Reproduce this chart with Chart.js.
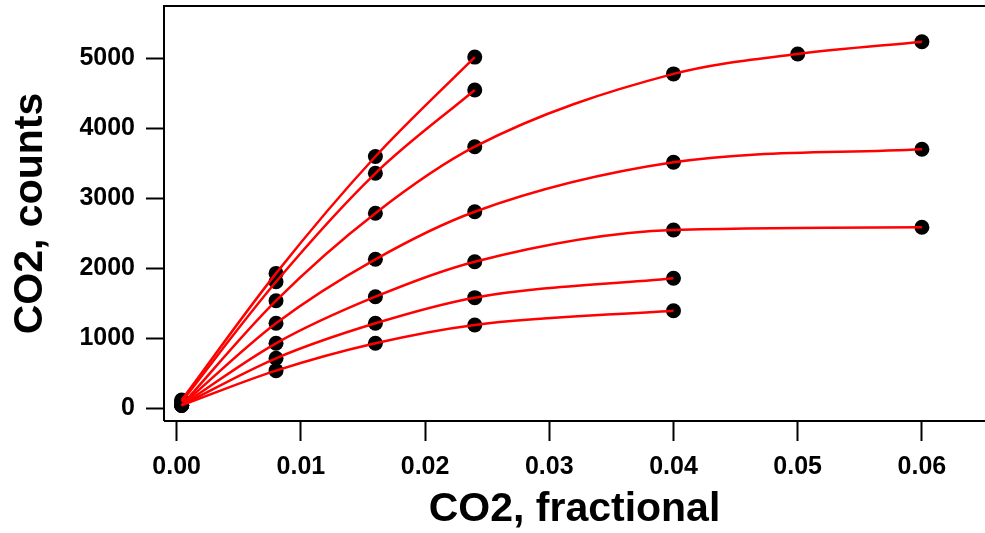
<!DOCTYPE html>
<html>
<head>
<meta charset="utf-8">
<script src="https://cdn.jsdelivr.net/npm/chart.js@4.4.1/dist/chart.umd.min.js"></script>
<style>
  html, body { margin: 0; padding: 0; background: #fff; }
  #wrap { width: 985px; height: 533px; }
</style>
</head>
<body>
<div id="wrap"><canvas id="myChart" width="985" height="533"></canvas></div>
<script>
// CO2 fraction at which each calibration run was sampled
const fracShort = [0.0004, 0.008, 0.016, 0.024];
const fracLong = [0.0004, 0.008, 0.016, 0.024, 0.04, 0.05, 0.06];
const fracMid = [0.0004, 0.008, 0.016, 0.024, 0.04, 0.06];
const fracFour = [0.0004, 0.008, 0.016, 0.024, 0.04];

// counts, top curve first
const counts1 = [120, 1930, 3600, 5020];
const counts2 = [95, 1810, 3360, 4550];
const counts3 = [45, 1540, 2790, 3740, 4780, 5064, 5240];
const counts4 = [45, 1217, 2131, 2811, 3517, 3703];
const counts5 = [45, 931, 1597, 2097, 2550, 2589];
const counts6 = [45, 717, 1217, 1583, 1860];
const counts7 = [45, 540, 931, 1193, 1397];

const xTicks = [0, 0.01, 0.02, 0.03, 0.04, 0.05, 0.06];
const yTicks = [0, 1000, 2000, 3000, 4000, 5000];

const runs = [
    [fracShort, counts1],
    [fracShort, counts2],
    [fracLong, counts3],
    [fracMid, counts4],
    [fracMid, counts5],
    [fracFour, counts6],
    [fracFour, counts7],
];

const toPoints = (xs, ys) => xs.map((x, i) => ({ x: x, y: ys[i] }));

const datasets = [];
runs.forEach(([xs, ys]) => {
    // fitted curve, drawn above the dots
    datasets.push({
        data: toPoints(xs, ys),
        showLine: true,
        borderColor: '#ff0000',
        borderWidth: 2.5,
        pointRadius: 0,
        cubicInterpolationMode: 'monotone',
        order: 1,
    });
    datasets.push({
        data: toPoints(xs, ys),
        showLine: false,
        backgroundColor: '#000',
        borderWidth: 0,
        pointRadius: 7.5,
        order: 2,
    });
});

const frame = {
    id: 'frame',
    afterDraw(chart) {
        const { ctx, chartArea: a } = chart;
        ctx.save();
        ctx.strokeStyle = '#000';
        ctx.lineWidth = 2;
        ctx.beginPath();
        ctx.moveTo(a.left, a.bottom);
        ctx.lineTo(a.left, a.top);
        ctx.lineTo(a.right, a.top);
        ctx.moveTo(a.left, a.bottom);
        ctx.lineTo(a.right, a.bottom);
        ctx.stroke();
        ctx.restore();
    },
};

// no extra room for half labels at the ends of the axes
const noPad = (scale) => {
    scale.paddingTop = 0;
    scale.paddingBottom = 0;
    scale.paddingLeft = 0;
    scale.paddingRight = 0;
};

const tickFont = { family: '"Liberation Sans", Arial, sans-serif', size: 25, weight: 'bold' };
const titleFont = { family: '"Liberation Sans", Arial, sans-serif', size: 41, weight: 'bold', lineHeight: 1 };

const config = {
    type: 'scatter',
    data: { datasets: datasets },
    options: {
        responsive: false,
        animation: false,
        devicePixelRatio: 1,
        layout: { autoPadding: false, padding: { top: 6, right: 0, left: 0, bottom: 0 } },
        plugins: {
            legend: { display: false },
            tooltip: { enabled: false },
        },
        scales: {
            x: {
                type: 'linear',
                min: -0.00102,
                max: 0.06508,
                afterBuildTicks: (scale) => { scale.ticks = xTicks.map(v => ({ value: v })); },
                afterFit: (scale) => { scale.height = 112; noPad(scale); },
                border: { display: false },
                grid: {
                    drawOnChartArea: false,
                    tickLength: 20,
                    tickWidth: 2,
                    tickColor: '#000',
                },
                ticks: {
                    color: '#000',
                    font: tickFont,
                    padding: 11,
                    maxRotation: 0,
                    callback: (v) => Number(v).toFixed(2),
                },
                title: {
                    display: true,
                    text: 'CO2, fractional',
                    color: '#000',
                    font: titleFont,
                    padding: { top: 0, bottom: 3 },
                },
            },
            y: {
                type: 'linear',
                min: -179,
                max: 5750,
                afterBuildTicks: (scale) => { scale.ticks = yTicks.map(v => ({ value: v })); },
                afterFit: (scale) => { scale.width = 164; noPad(scale); },
                border: { display: false },
                grid: {
                    drawOnChartArea: false,
                    tickLength: 18,
                    tickWidth: 2,
                    tickColor: '#000',
                },
                ticks: {
                    color: '#000',
                    font: tickFont,
                    padding: 11,
                    callback: (v) => String(v),
                },
                title: {
                    display: true,
                    text: 'CO2, counts',
                    color: '#000',
                    font: titleFont,
                    padding: { top: 10, bottom: 0 },
                },
            },
        },
    },
    plugins: [frame],
};

const ctx = document.getElementById('myChart').getContext('2d');
const myChart = new Chart(ctx, config);
</script>
</body>
</html>
